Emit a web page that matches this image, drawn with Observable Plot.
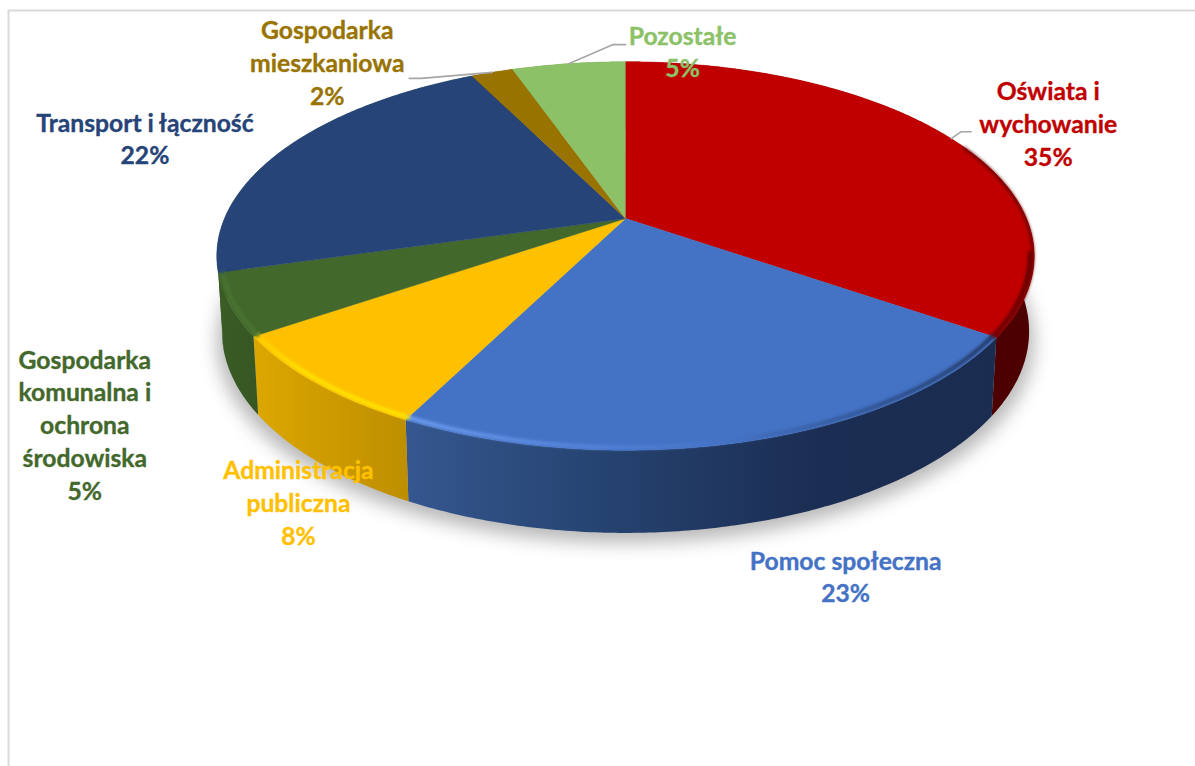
<!DOCTYPE html>
<html lang="pl">
<head>
<meta charset="utf-8">
<script src="https://cdn.jsdelivr.net/npm/d3@7"></script>
<script src="https://cdn.jsdelivr.net/npm/@observablehq/plot@0.6"></script>
<style>
  html, body { margin: 0; padding: 0; background: #fff; overflow: hidden; }
  figure { margin: 0; }
  svg { display: block; }
</style>
</head>
<body>
<div id="chart"></div>
<script>
// Data
const categories = ["Oświata i\nwychowanie", "Pomoc społeczna", "Administracja\npubliczna", "Gospodarka\nkomunalna i\nochrona\nśrodowiska", "Transport i łączność", "Gospodarka\nmieszkaniowa", "Pozostałe"];
const shares = [34.6, 22.9, 8.0, 5.1, 22.0, 2.0, 5.4];
const colors = ["#c00000", "#4472c4", "#ffc000", "#43682b", "#264478", "#997300", "#8cc168"];

// Label placement relative to the slice's outer rim midpoint (px)
const labelDx = [97, 99, -17, -145, -140, -165, 114];
const labelDy = [-16, 134, 119, 119, -11, -11, -13];
// Leader lines: elbow offsets from rim midpoint, per slice (null = no leader)
const leaders = [
  [[10, -7], [20, -7]],
  null, null, null, null,
  [[-71, 6], [-83, 6]],
  [[44, -19], [57, -19]]
];

// Wall shading
const wallStops = [
  [["0%", "#4d0000"], ["100%", "#4d0000"]],
  [["0%", "#35578f"], ["35%", "#25426f"], ["70%", "#1b2d52"], ["100%", "#1a2c50"]],
  [["0%", "#dca700"], ["100%", "#bd8e00"]],
  [["0%", "#3a5c25"], ["100%", "#375623"]],
  [["0%", "#3a5c25"], ["100%", "#3a5c25"]],
  [["0%", "#735600"], ["100%", "#735600"]],
  [["0%", "#69914e"], ["100%", "#69914e"]]
];
// Bevel highlight along the front rim
const bevelStops = [
  [["0%", "#7a0000"], ["100%", "#5a0000"]],
  [["0%", "#6f9ff2"], ["30%", "#5585dc"], ["55%", "#4472c4"], ["78%", "#2f5290"], ["100%", "#1f3560"]],
  [["0%", "#ffd000"], ["30%", "#ffe600"], ["100%", "#ffe600"]],
  [["0%", "#4a7430"], ["100%", "#4a7430"]],
  [["0%", "#264478"], ["100%", "#264478"]],
  [["0%", "#997300"], ["100%", "#997300"]],
  [["0%", "#8cc168"], ["100%", "#8cc168"]]
];

// Perspective of the pie (pixel geometry)
const cx = 625, k = 0.193;
const topRim = {cy: 218, c: 187, R: 401};
const lowRim = {cy: 292, c: 194, R: 396};
const project = (a, r, p) => {
  const X = r * Math.sin(a), Y = -r * Math.cos(a), d = 1 - k * Y;
  return {x: cx + p.R * X / d, y: p.cy + p.c * Y / d};
};
const arcAngles = (a0, a1) => {
  const n = Math.max(2, Math.ceil((a1 - a0) / 0.01));
  return d3.range(n + 1).map(i => a0 + (a1 - a0) * i / n);
};

const slices = d3.pie().sort(null).value(d => d)(shares);
const apex = {x: cx, y: topRim.cy};

const wallPath = s => {
  const as = arcAngles(s.startAngle, s.endAngle);
  return [...as.map(a => project(a, 1, topRim)), ...as.slice().reverse().map(a => project(a, 1, lowRim))];
};
const topPath = s => [apex, ...arcAngles(s.startAngle, s.endAngle).map(a => project(a, 1, topRim))];

// Which slices show a bevel, over what part of the rim
const inFront = s => {
  const a0 = Math.max(s.startAngle, 1.75), a1 = Math.min(s.endAngle, 4.55);
  return a1 > a0 ? [a0, a1] : null;
};

const rimMids = slices.map(s => project((s.startAngle + s.endAngle) / 2, 1, topRim));

const defs = () => {
  const d = d3.create("svg:defs");
  const grad = (id, stops) => {
    const g = d.append("svg:linearGradient").attr("id", id).attr("x1", 0).attr("x2", 1).attr("y1", 0).attr("y2", 0);
    stops.forEach(([o, c]) => g.append("svg:stop").attr("offset", o).attr("stop-color", c));
  };
  wallStops.forEach((st, i) => grad(`wall${i}`, st));
  bevelStops.forEach((st, i) => grad(`bevel${i}`, st));
  [["soft", 9], ["edge", 1.6]].forEach(([id, sd]) => {
    d.append("svg:filter").attr("id", id).attr("filterUnits", "userSpaceOnUse")
      .attr("x", 0).attr("y", 0).attr("width", 1195).attr("height", 766)
      .append("svg:feGaussianBlur").attr("stdDeviation", sd);
  });
  return d.node();
};
const blurred = id => (index, scales, values, dim, ctx, next) => {
  const g = next(index, scales, values, dim, ctx);
  g.setAttribute("filter", `url(#${id})`);
  return g;
};

const marks = [defs];

// Frame
marks.push(Plot.ruleX([8], {y1: 10, y2: 766, stroke: "#d9d9d9", strokeWidth: 2}));
marks.push(Plot.ruleY([10], {x1: 8, x2: 1195, stroke: "#d9d9d9", strokeWidth: 2}));

// Soft shadow under the pie
const shadowPts = arcAngles(0, 2 * Math.PI).map(a => {
  const p = project(a, 1, lowRim);
  return {x: p.x + (p.x - cx) * 0.012, y: p.y + 10};
});
marks.push(Plot.line(shadowPts, {x: "x", y: "y", fill: "#000", stroke: "none", fillOpacity: 0.28, render: blurred("soft")}));

// Walls
slices.forEach((s, i) => {
  marks.push(Plot.line(wallPath(s), {x: "x", y: "y", fill: `url(#wall${i})`, stroke: "none"}));
});
// Top faces
slices.forEach((s, i) => {
  marks.push(Plot.line(topPath(s), {x: "x", y: "y", fill: colors[i], stroke: colors[i], strokeWidth: 0.5}));
});
// Bevels along the front rim
slices.forEach((s, i) => {
  const range = inFront(s);
  if (!range) return;
  const pts = arcAngles(...range).map(a => project(a, 0.99, topRim));
  marks.push(Plot.line(pts, {x: "x", y: "y", stroke: `url(#bevel${i})`, strokeWidth: 4, strokeOpacity: 0.95, render: blurred("edge")}));
});
// Darkened right edge of the first slice
{
  const pts = arcAngles(1.15, slices[0].endAngle).map(a => project(a, 0.997, topRim));
  marks.push(Plot.line(pts, {x: "x", y: "y", stroke: "#5a0000", strokeWidth: 3, strokeOpacity: 0.75, render: blurred("edge")}));
}

// Leader lines
leaders.forEach((l, i) => {
  if (!l) return;
  const m = rimMids[i];
  const pts = [m, ...l.map(([dx, dy]) => ({x: m.x + dx, y: m.y + dy}))];
  marks.push(Plot.line(pts, {x: "x", y: "y", stroke: "#a6a6a6", strokeWidth: 1.6}));
});

// Labels
slices.forEach((s, i) => {
  const m = rimMids[i];
  marks.push(Plot.text([m], {
    x: "x", y: "y", dx: labelDx[i], dy: labelDy[i],
    text: () => `${categories[i]}\n${Math.round(shares[i])}%`,
    fill: colors[i], stroke: colors[i], strokeWidth: 0.35, fontFamily: "Lato", fontWeight: 700, fontSize: 24.7, lineHeight: 1.325,
    textAnchor: "middle", lineAnchor: "middle"
  }));
});

const plot = Plot.plot({
  width: 1195, height: 766, margin: 0,
  x: {domain: [0, 1195], range: [0, 1195], axis: null},
  y: {domain: [0, 766], range: [0, 766], axis: null},
  style: {background: "#fff"},
  marks
});
document.getElementById("chart").appendChild(plot);
</script>
</body>
</html>
